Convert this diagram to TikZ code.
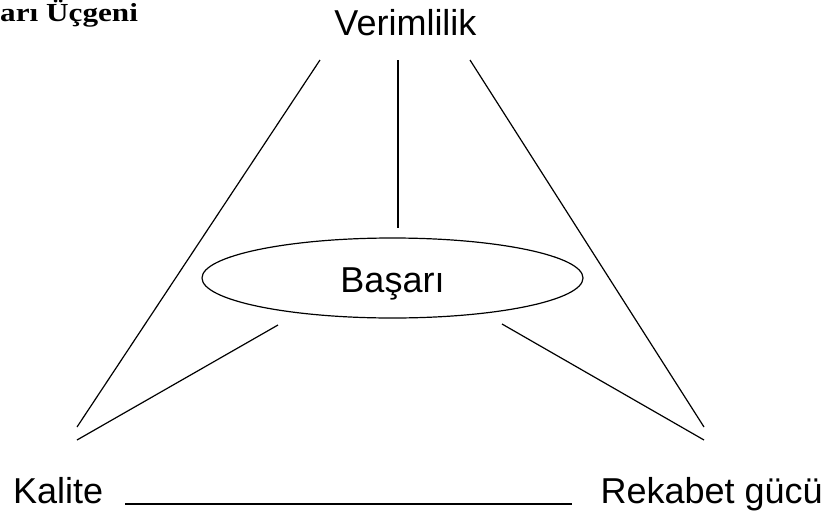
\documentclass[tikz,border=0pt]{standalone}
\usepackage{fontspec}
\setmainfont{Liberation Sans}
\newfontfamily\titlefont{Liberation Serif}
\usetikzlibrary{shapes.geometric}
\begin{document}
\begin{tikzpicture}[x=1pt,y=-1pt,
  label/.style={font=\fontsize{36}{40}\selectfont, inner sep=0pt},
  edge/.style={line width=1.2pt, black},
  hub/.style={ellipse, draw, line width=1.2pt, minimum width=381pt, minimum height=80pt,
              inner sep=0pt, text height=28pt, text depth=0pt,
              font=\fontsize{36}{40}\selectfont},
  heading/.style={font=\titlefont\bfseries\fontsize{26}{30}\selectfont, inner sep=0pt, xscale=1.2}]
  \useasboundingbox (0,0) rectangle (828,517);
  \fill[white] (0,0) rectangle (828,517);

  % heading
  \node[heading, anchor=base west] (title) at (0,21) {arı Üçgeni};

  % corner labels
  \node[label, anchor=base] (ver) at (405.5,35) {Verimlilik};
  \node[label, anchor=base west] (kal) at (13,503) {Kalite};
  \node[label, anchor=base east] (rek) at (823,503) {Rekabet gücü};

  % centre
  \node[hub] (bas) at (392.5,278) {Başarı};

  % end points of the free-standing strokes
  \coordinate (lt) at (320,60);   \coordinate (lb) at (77,427);
  \coordinate (ls) at (278,325);  \coordinate (lk) at (77,440);
  \coordinate (rt) at (470,60);   \coordinate (rb) at (704,427);
  \coordinate (rs) at (502,324);  \coordinate (rk) at (704,440);
  \coordinate (vt) at (398,60);   \coordinate (vb) at (398,228);
  \coordinate (ba) at (125,504);  \coordinate (bb) at (572,504);

  \draw[edge] (lt) -- (lb);
  \draw[edge] (ls) -- (lk);
  \draw[edge] (rt) -- (rb);
  \draw[edge] (rs) -- (rk);
  \draw[edge] (vt) -- (vb);
  \draw[edge] (ba) -- (bb);
\end{tikzpicture}
\end{document}
